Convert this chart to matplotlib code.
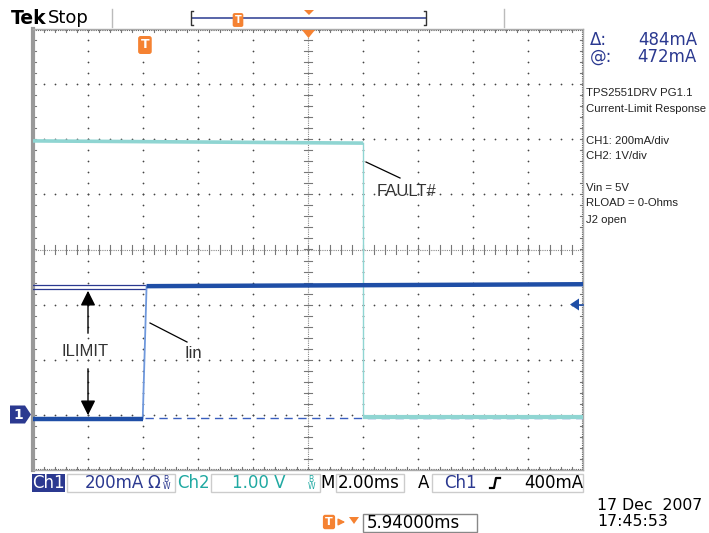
import numpy as np
import matplotlib
matplotlib.use("Agg")
import matplotlib.pyplot as plt
from matplotlib.patches import Polygon, Rectangle

W, H = 709, 533

# scope settings
ms_per_div = 2.0
ch1_ma_per_div = 200.0
ch2_v_per_div = 1.0
ch1_offset_div = -3.0
ch2_offset_div = -3.0
t_left = -4.07          # ms at left graticule edge, trigger at t = 0

# traces
ch1_t = [-4.07, -0.08, 0.06, 15.93]
ch1_ma = [-14, -14, 467, 474]
ch2_t = [-4.07, 7.94, 7.94, 15.93]
ch2_v = [4.97, 4.93, -0.03, -0.03]

cursor_ma = [472, -12]
trig_level_ma = 400

BLUE = "#1f4ea6"
NAVY = "#2b3990"
TEAL = "#8fd5d2"
TEAL_TXT = "#20a9a2"
ORANGE = "#f58232"


def xd(t):
    return (np.asarray(t, float) - t_left) / ms_per_div


def y1(ma):
    return np.asarray(ma, float) / ch1_ma_per_div + ch1_offset_div


def y2(v):
    return np.asarray(v, float) / ch2_v_per_div + ch2_offset_div


fig = plt.figure(figsize=(W / 100, H / 100), dpi=100)
fig.patch.set_facecolor("white")

# graticule axes (divisions)
ax = fig.add_axes([33 / W, (H - 470) / H, 550 / W, 441 / H])
ax.set_xlim(0, 10)
ax.set_ylim(-4, 4)
ax.set_xticks([])
ax.set_yticks([])
for s in ax.spines.values():
    s.set_color("#aaaaaa")
    s.set_linewidth(1.0)
ax.spines["left"].set_linewidth(3.0)
ax.spines["left"].set_color("#999999")
ax.set_zorder(1)

minor = np.arange(0, 10.001, 0.2)
minor_y = np.arange(-4, 4.001, 0.2)
dot = dict(s=1.6, color="#444444", linewidths=0, zorder=2)
for gx in range(1, 10):
    if gx == 5:
        continue
    ax.scatter(np.full(len(minor_y), gx), minor_y, **dot)
for gy in range(-3, 4):
    if gy == 0:
        continue
    ax.scatter(minor, np.full(len(minor), gy), **dot)

# centre axes with minor ticks
tk = dict(color="#777777", lw=0.8, zorder=2)
ax.plot([5, 5], [-4, 4], color="#888888", lw=0.8, ls=(0, (1, 1)), zorder=2)
ax.plot([0, 10], [0, 0], color="#888888", lw=0.8, ls=(0, (1, 1)), zorder=2)
for yy in minor_y:
    ax.plot([4.92, 5.08], [yy, yy], **tk)
for xx in minor:
    ax.plot([xx, xx], [-0.08, 0.08], **tk)

# edge ticks
for xx in minor:
    ax.plot([xx, xx], [4, 3.94], **tk)
    ax.plot([xx, xx], [-4, -3.94], **tk)
for yy in minor_y:
    ax.plot([0, 0.06], [yy, yy], **tk)
    ax.plot([10, 9.94], [yy, yy], **tk)
ax.plot([0, 10], [3.985, 3.985], color="#555555", lw=0.8, ls=(0, (1, 1)), zorder=2)
ax.plot([0, 10], [-3.985, -3.985], color="#555555", lw=0.8, ls=(0, (1, 1)), zorder=2)
ax.plot([9.985, 9.985], [-4, 4], color="#555555", lw=0.8, ls=(0, (1, 1)), zorder=2)

# cursors
ax.plot(xd([t_left, 0.0]), y1([cursor_ma[0], cursor_ma[0]]), color=NAVY, lw=0.9, zorder=3)
ax.plot(xd([t_left, 0.0]), y1([cursor_ma[0] - 14, cursor_ma[0] - 14]), color=NAVY, lw=0.9, zorder=3)
ax.plot(xd([0.0, 15.93]), y1([cursor_ma[1], cursor_ma[1]]), color="#3a5fc0", lw=1.0,
        ls=(0, (6, 4)), zorder=3)

# ch2 (FAULT#)
ax.plot(xd(ch2_t[1:3]), y2(ch2_v[1:3]), color=TEAL, lw=1.0, zorder=4)
ax.plot(xd(ch2_t[0:2]), y2(ch2_v[0:2]), color=TEAL, lw=2.6, solid_capstyle="butt", zorder=4)
ax.plot(xd(ch2_t[2:4]), y2(ch2_v[2:4]), color=TEAL, lw=3.0, solid_capstyle="butt", zorder=4)

# ch1 (Iin)
ax.plot(xd(ch1_t[1:3]), y1(ch1_ma[1:3]), color="#6f98dc", lw=1.3, zorder=5)
ax.plot(xd(ch1_t[0:2]), y1(ch1_ma[0:2]), color=BLUE, lw=3.2, solid_capstyle="butt", zorder=5)
ax.plot(xd(ch1_t[2:4]), y1(ch1_ma[2:4]), color=BLUE, lw=3.2, solid_capstyle="butt", zorder=5)

# overlay in pixel coordinates
ov = fig.add_axes([0, 0, 1, 1])
ov.set_xlim(0, W)
ov.set_ylim(H, 0)
ov.axis("off")
ov.patch.set_visible(False)
ov.set_zorder(2)


def px_y(ydiv):
    return 249.5 - ydiv * 55.0


def px_x(xdiv):
    return 33 + xdiv * 55.0


# header
ov.text(11, 18, "Tek", fontsize=13.5, fontweight="bold", family="DejaVu Sans",
        va="center", ha="left")
ov.text(48, 18, "Stop", fontsize=13, family="DejaVu Sans", va="center", ha="left")
ov.plot([112, 112], [9, 27], color="#bbbbbb", lw=1)
ov.plot([504, 504], [9, 27], color="#bbbbbb", lw=1)
ov.plot([192, 426], [18, 18], color="#3b4a9a", lw=1.2)
ov.plot([193, 191, 191, 193], [11, 11, 25, 25], color="#333333", lw=1)
ov.plot([424, 426, 426, 424], [11, 11, 25, 25], color="#333333", lw=1)
ov.text(238, 20, "T", fontsize=7, color="white", fontweight="bold", ha="center", va="center",
        bbox=dict(boxstyle="round,pad=0.2", fc=ORANGE, ec="none"))
ov.add_patch(Polygon([[304, 10], [314, 10], [309, 15]], closed=True, fc=ORANGE, ec="none"))

# trigger markers on graticule
x_trig = px_x(xd(0.0))
ov.text(x_trig, 45, "T", fontsize=9, color="white", fontweight="bold", ha="center", va="center",
        bbox=dict(boxstyle="round,pad=0.2", fc=ORANGE, ec="none"))
ov.add_patch(Polygon([[302, 30], [315, 30], [308.5, 38]], closed=True, fc=ORANGE, ec="none"))

# ch1 ground marker
yg = px_y(ch1_offset_div)
ov.add_patch(Polygon([[10, yg - 9], [25, yg - 9], [31, yg], [25, yg + 9], [10, yg + 9]],
                     closed=True, fc=NAVY, ec="none"))
ov.text(18, yg + 0.5, "1", fontsize=10, color="white", fontweight="bold", ha="center", va="center")

# trigger level marker
yt = px_y(y1(trig_level_ma))
ov.add_patch(Polygon([[570, yt], [579, yt - 6], [579, yt + 6]], closed=True, fc=BLUE, ec="none"))
ov.plot([579, 583], [yt, yt], color=BLUE, lw=1.2)

# annotations
ann = "#333333"
ov.annotate("", xy=(88, 288), xytext=(88, 336),
            arrowprops=dict(arrowstyle="-|>,head_width=0.45,head_length=0.9", color="black", lw=1))
ov.annotate("", xy=(88, 418), xytext=(88, 366),
            arrowprops=dict(arrowstyle="-|>,head_width=0.45,head_length=0.9", color="black", lw=1))
ov.text(85, 352, "ILIMIT", fontsize=12, color=ann, family="Liberation Sans", ha="center", va="center")
ov.plot([150, 187], [323, 342], color="black", lw=0.9)
ov.text(185, 354, "Iin", fontsize=12, color=ann, family="Liberation Sans", ha="left", va="center")
ov.plot([366, 400], [162, 178], color="black", lw=0.9)
ov.text(377, 191, "FAULT#", fontsize=12, color=ann, family="Liberation Sans", ha="left", va="center")

# right panel
ov.text(590, 40, "\u0394:", fontsize=12, color=NAVY, family="DejaVu Sans", va="center")
ov.text(697, 40, "484mA", fontsize=12, color=NAVY, family="DejaVu Sans", va="center", ha="right")
ov.text(590, 57, "@:", fontsize=12, color=NAVY, family="DejaVu Sans", va="center")
ov.text(697, 57, "472mA", fontsize=12, color=NAVY, family="DejaVu Sans", va="center", ha="right")
side = [(93, "TPS2551DRV PG1.1"), (109, "Current-Limit Response"),
        (141, "CH1: 200mA/div"), (156, "CH2: 1V/div"),
        (188, "Vin = 5V"), (203, "RLOAD = 0-Ohms"), (220, "J2 open")]
for yy, s in side:
    ov.text(586, yy, s, fontsize=8.2, color="#222222", family="Liberation Sans", va="center")

# bottom status bar
bf = dict(fontsize=12, family="DejaVu Sans", va="center")
yb = 483
ov.add_patch(Rectangle((32, 474), 33, 18, fc=NAVY, ec="none"))
ov.text(48.5, yb, "Ch1", color="white", ha="center", **bf)
for x0, x1 in [(67, 175), (211, 320), (336, 404), (432, 583)]:
    ov.add_patch(Rectangle((x0, 474), x1 - x0, 18, fc="none", ec="#cccccc", lw=1))
ov.text(85, yb, "200mA", color=NAVY, ha="left", **bf)
ov.text(147, yb, "\u03a9", color=NAVY, ha="left", **bf)
ov.text(163, yb, "B\nW", color=NAVY, ha="left", fontsize=5.5, va="center", linespacing=0.8)
ov.text(177, yb, "Ch2", color=TEAL_TXT, ha="left", **bf)
ov.text(232, yb, "1.00 V", color=TEAL_TXT, ha="left", **bf)
ov.text(308, yb, "B\nW", color=TEAL_TXT, ha="left", fontsize=5.5, va="center", linespacing=0.8)
ov.text(320, yb, "M", color="black", ha="left", **bf)
ov.text(338, yb, "2.00ms", color="black", ha="left", **bf)
ov.text(418, yb, "A", color="black", ha="left", **bf)
ov.text(444, yb, "Ch1", color=NAVY, ha="left", **bf)
ov.plot([490, 494, 496, 500], [488, 488, 478, 478], color="black", lw=1.6)
ov.text(583, yb, "400mA", color="black", ha="right", **bf)

ov.text(597, 505, "17 Dec  2007", color="black", ha="left", fontsize=11.3,
        family="DejaVu Sans", va="center")
ov.text(597, 522, "17:45:53", color="black", ha="left", fontsize=11.3,
        family="DejaVu Sans", va="center")

ov.text(329, 522, "T", fontsize=8, color="white", fontweight="bold", ha="center", va="center",
        bbox=dict(boxstyle="round,pad=0.2", fc=ORANGE, ec="none"))
ov.annotate("", xy=(348, 522), xytext=(337, 522),
            arrowprops=dict(arrowstyle="-|>,head_width=0.2,head_length=0.4", color=ORANGE, lw=1))
ov.add_patch(Polygon([[349, 517], [359, 517], [354, 524]], closed=True, fc=ORANGE, ec="none"))
ov.add_patch(Rectangle((363, 514), 114, 18, fc="none", ec="#888888", lw=1))
ov.text(367, 523, "5.94000ms", color="black", ha="left", **bf)

fig.savefig("out.png", dpi=100)
